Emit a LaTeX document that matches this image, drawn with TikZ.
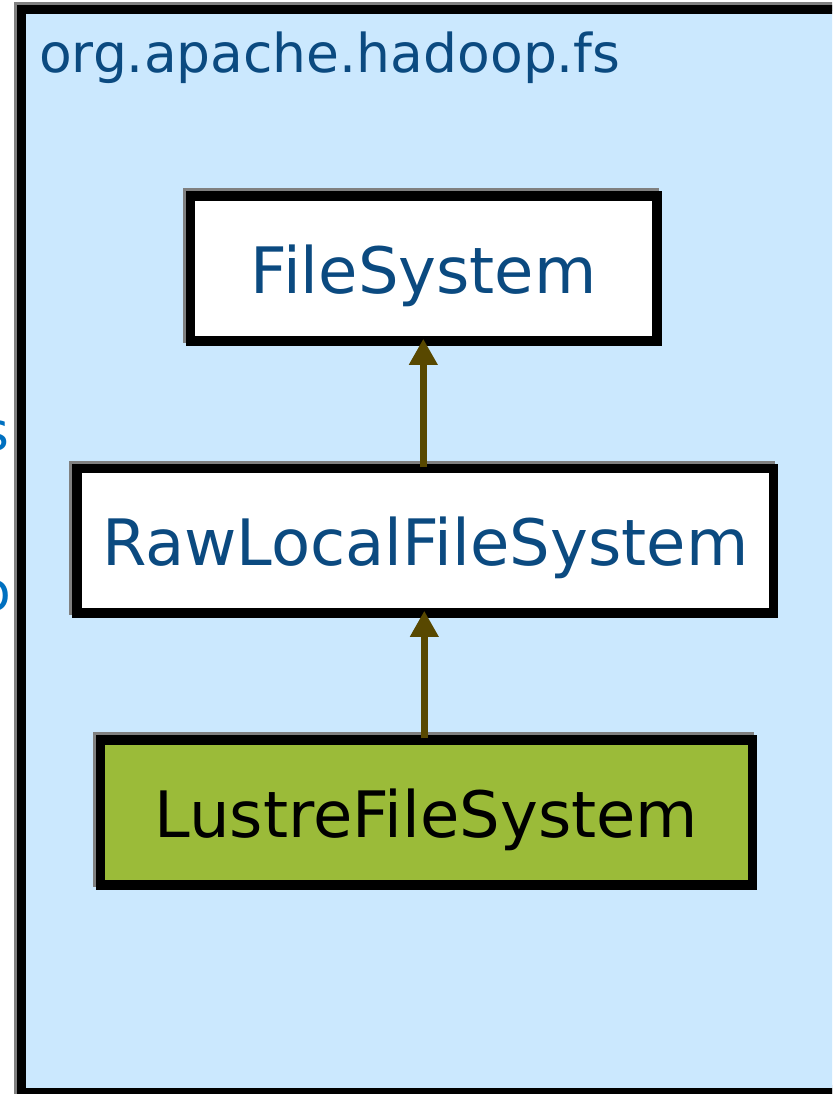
\documentclass[tikz,border=0pt]{standalone}
\usepackage{fontspec}
\setmainfont{DejaVu Sans}
\usetikzlibrary{arrows.meta}
\definecolor{pkgfill}{RGB}{203,232,254}
\definecolor{txtblue}{RGB}{11,74,128}
\definecolor{fragblue}{RGB}{0,112,192}
\definecolor{lustregreen}{RGB}{155,187,57}
\definecolor{arrowbrown}{RGB}{88,72,0}
\definecolor{shadowgray}{RGB}{128,128,128}
\tikzset{
  classbox/.style={draw=black, line width=9.5pt, rectangle, inner sep=0pt,
    font=\fontsize{64}{72}\selectfont, text height=50pt, text depth=0pt,
    preaction={draw=shadowgray, rounded corners=2pt, transform canvas={shift={(-3pt,3pt)}}}},
  inherit/.style={draw=arrowbrown, line width=6.5pt, -{Triangle[width=27pt,length=26pt]}},
  pkglabel/.style={inner sep=0pt, font=\fontsize{53.5}{60}\selectfont},
}
\begin{document}
\begin{tikzpicture}[x=1pt,y=-1pt]
\useasboundingbox (0,0) rectangle (832,1094);
\clip (0,0) rectangle (832,1094);
% package frame with shadow
\draw[shadowgray, line width=9pt] (18.5,7) rectangle (900,1089);
\draw[fill=pkgfill, draw=black, line width=9pt] (21.5,10) rectangle (900,1092);
\node[pkglabel, text=txtblue, anchor=base west] (pkg) at (39,73) {org.apache.hadoop.fs};
% clipped fragments at left edge
\node[pkglabel, text=fragblue, anchor=base east] (fragS) at (10,450) {s};
\node[pkglabel, text=fragblue, anchor=base east] (fragO) at (11,610) {o};
% classes
\node[classbox, fill=white, text=txtblue, minimum width=466.5pt, minimum height=145pt] (fs) at (423.75,268.5) {FileSystem};
\node[classbox, fill=white, text=txtblue, minimum width=696.5pt, minimum height=144.5pt] (raw) at (425.25,540.75) {RawLocalFileSystem};
\node[classbox, fill=lustregreen, text=black, minimum width=652pt, minimum height=145pt] (lustre) at (426.5,812.5) {LustreFileSystem};
% inheritance arrows
\draw[inherit, shorten <=-3pt, shorten >=-7pt] (raw.north -| 423.3,0) -- (fs.south -| 423.3,0);
\draw[inherit, shorten <=-3pt, shorten >=-7pt] (lustre.north -| 424.3,0) -- (raw.south -| 424.3,0);
\end{tikzpicture}
\end{document}
